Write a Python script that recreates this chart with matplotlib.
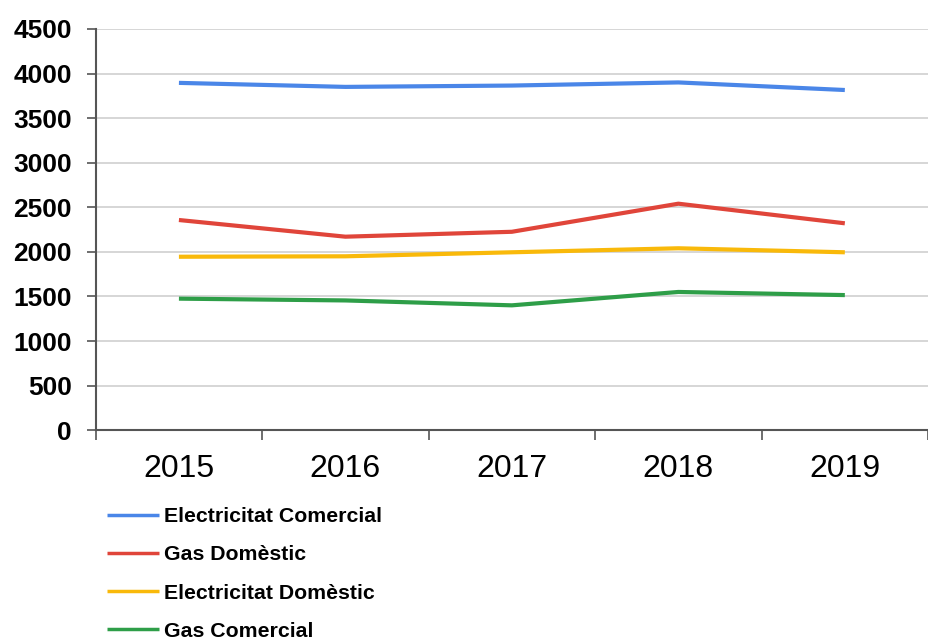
import numpy as np
from matplotlib import pyplot as plt

years = ['2015', '2016', '2017', '2018', '2019']
elec_comercial = [3895, 3850, 3865, 3900, 3815]
gas_domestic = [2357, 2170, 2225, 2540, 2320]
elec_domestic = [1945, 1950, 1995, 2040, 1995]
gas_comercial = [1475, 1455, 1400, 1550, 1515]

series_names = ['Electricitat Comercial', 'Gas Domèstic', 'Electricitat Domèstic', 'Gas Comercial']
series_colors = ['#4A86E8', '#E0453A', '#F9B90A', '#2E9E48']

plt.rcParams['font.family'] = ['Liberation Sans', 'DejaVu Sans']

fig = plt.figure(figsize=(9.29, 6.43), dpi=100)
ax = fig.add_axes([0.103, 0.331, 0.896, 0.624])

x = np.arange(len(years))
for vals, name, col in zip([elec_comercial, gas_domestic, elec_domestic, gas_comercial],
                           series_names, series_colors):
    ax.plot(x, vals, color=col, lw=3, label=name, solid_capstyle='butt')

ax.set_xlim(-0.5, len(years) - 0.5)
ax.set_ylim(0, 4500)
ax.set_yticks(np.arange(0, 4501, 500))
ax.set_yticklabels([str(v) for v in range(0, 4501, 500)], fontsize=19, fontweight='bold')
ax.yaxis.grid(True, color='#cfcfcf', lw=1.2)
ax.set_axisbelow(True)

# category ticks between years, labels centred
ax.set_xticks(np.arange(-0.5, len(years), 1.0))
ax.set_xticklabels([])
ax.set_xticks(x, minor=True)
ax.set_xticklabels(years, minor=True, fontsize=23)
ax.tick_params(axis='x', which='major', length=7.5, width=1.2, color='#555555', direction='out')
ax.tick_params(axis='x', which='minor', length=0, pad=17)
ax.tick_params(axis='y', length=6.5, width=1.2, color='#555555', pad=10.5)

for s in ['top', 'right']:
    ax.spines[s].set_visible(False)
for s in ['left', 'bottom']:
    ax.spines[s].set_color('#555555')
    ax.spines[s].set_linewidth(1.5)

leg = fig.legend(loc='upper left', bbox_to_anchor=(0.115, 0.211), frameon=False,
                 handlelength=2.45, handletextpad=0.22, labelspacing=0.9,
                 prop={'weight': 'bold', 'size': 15.3}, borderaxespad=0, borderpad=0)
for h in leg.get_lines():
    h.set_linewidth(2.5)

fig.savefig('out.png', dpi=100)
